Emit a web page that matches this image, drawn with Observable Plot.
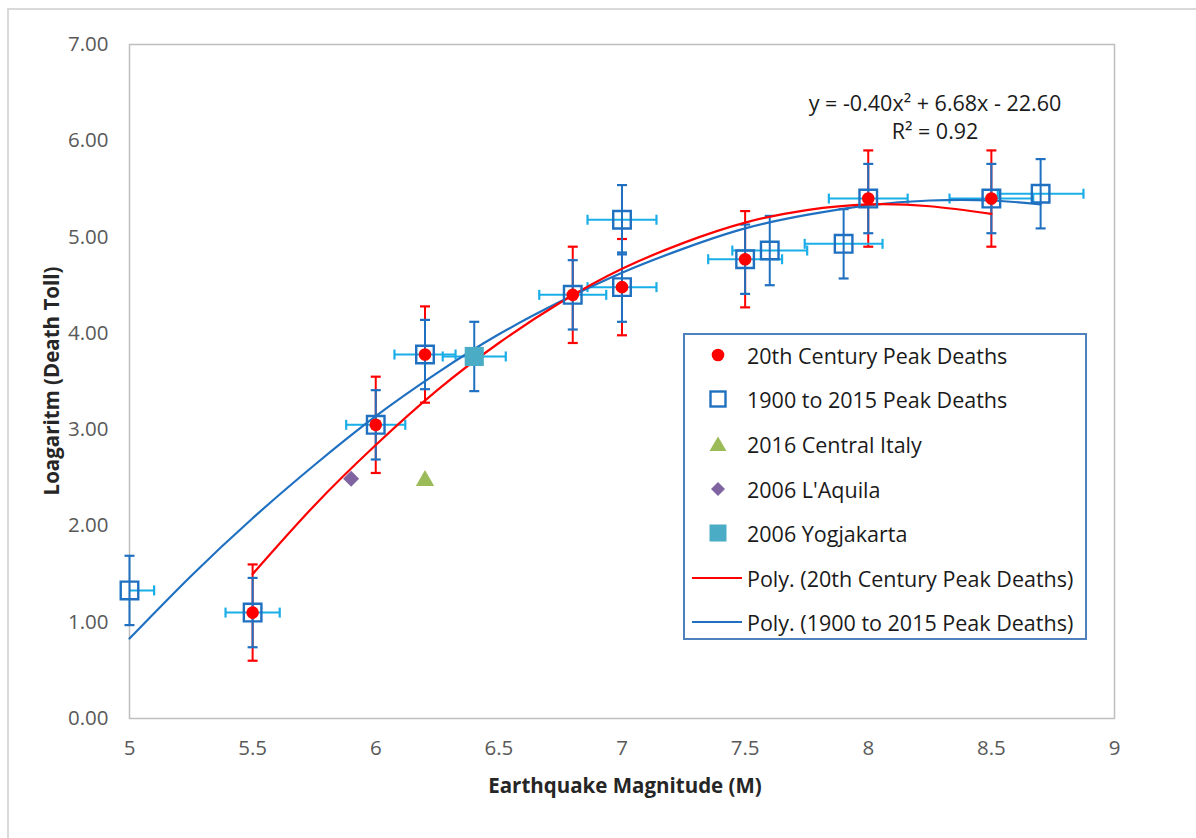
<!DOCTYPE html>
<html>
<head>
<meta charset="utf-8">
<script src="https://cdn.jsdelivr.net/npm/d3@7"></script>
<script src="https://cdn.jsdelivr.net/npm/@observablehq/plot@0.6"></script>
<style>
  html, body { margin: 0; padding: 0; background: #fff; }
  body { font-family: "Open Sans", "Noto Sans", sans-serif; }
  #wrap { position: relative; width: 1196px; height: 838px; overflow: hidden; }
  #outer { position: absolute; left: 7px; top: 8px; width: 1200px; height: 840px;
           border-top: 2px solid #d9d9d9; border-left: 2px solid #d9d9d9; box-sizing: border-box; }
  #chart { position: absolute; left: 0; top: 0; }
  .ttl { position: absolute; font-weight: bold; color: #262626; font-size: 20.5px; white-space: nowrap; }
  #ytitle { left: 51px; top: 381px; transform: translate(-50%, -50%) rotate(-90deg); }
  #xtitle { left: 625px; top: 785px; transform: translate(-50%, -50%); }
  #eq { position: absolute; left: 935px; top: 89px; transform: translateX(-50%);
        text-align: center; font-size: 21.5px; color: #1a1a1a; line-height: 28px; white-space: nowrap; }
  #legend { position: absolute; left: 683px; top: 333px; width: 404px; height: 307px;
            border: 2px solid #4f81bd; box-sizing: border-box; background: #fff; }
  .row { position: absolute; left: 0; height: 30px; display: flex; align-items: center; font-size: 21.5px; color: #1a1a1a; white-space: nowrap; }
  .row svg { display: block; }
</style>
</head>
<body>
<div id="wrap">
  <div id="outer"></div>
  <div id="chart"></div>
  <div class="ttl" id="ytitle"></div>
  <div class="ttl" id="xtitle"></div>
  <div id="eq"></div>
  <div id="legend"></div>
</div>
<script>
// ---------- data ----------
const xTicks = [5, 5.5, 6, 6.5, 7, 7.5, 8, 8.5, 9];
const yTicks = [0, 1, 2, 3, 4, 5, 6, 7];
const xTitle = "Earthquake Magnitude (M)";
const yTitle = "Loagaritm (Death Toll)";
const equationLines = ["y = -0.40x\u00B2 + 6.68x - 22.60", "R\u00B2 = 0.92"];

// 20th Century Peak Deaths
const c20Mag = [5.5, 6.0, 6.2, 6.8, 7.0, 7.5, 8.0, 8.5];
const c20Log = [1.10, 3.05, 3.78, 4.40, 4.48, 4.77, 5.40, 5.40];
const c20Err = [0.5, 0.5, 0.5, 0.5, 0.5, 0.5, 0.5, 0.5];

// 1900 to 2015 Peak Deaths
const pkMag  = [5.0, 5.5, 6.0, 6.2, 6.8, 7.0, 7.0, 7.5, 7.6, 7.9, 8.0, 8.5, 8.7];
const pkLog  = [1.33, 1.10, 3.05, 3.78, 4.40, 5.18, 4.48, 4.77, 4.86, 4.93, 5.40, 5.40, 5.45];
const pkYErr = [0.36, 0.36, 0.36, 0.36, 0.36, 0.36, 0.36, 0.36, 0.36, 0.36, 0.36, 0.36, 0.36];
const pkXErr = [0.10, 0.11, 0.12, 0.124, 0.136, 0.14, 0.14, 0.15, 0.152, 0.158, 0.16, 0.17, 0.174];

// single events
const italyMag = [6.2], italyLog = [2.47];
const aquilaMag = [5.9], aquilaLog = [2.49];
const yogMag = [6.4], yogLog = [3.76], yogXErr = [0.128], yogYErr = [0.36];

// polynomial trendlines
const polyRedMag = [5.5, 5.75, 6.0, 6.25, 6.5, 6.75, 7.0, 7.25, 7.5, 7.75, 8.0, 8.25, 8.5];
const polyRedLog = [1.50, 2.21, 2.84, 3.41, 3.90, 4.32, 4.67, 4.94, 5.15, 5.28, 5.34, 5.32, 5.24];
const polyBlueMag = [5.0, 5.25, 5.5, 5.75, 6.0, 6.25, 6.5, 6.75, 7.0, 7.25, 7.5, 7.75, 8.0, 8.25, 8.5, 8.7];
const polyBlueLog = [0.83, 1.48, 2.08, 2.63, 3.14, 3.59, 3.99, 4.33, 4.63, 4.88, 5.09, 5.23, 5.33, 5.38, 5.38, 5.34];

const legendLabels = ["20th Century Peak Deaths", "1900 to 2015 Peak Deaths", "2016 Central Italy",
  "2006 L'Aquila", "2006 Yogjakarta", "Poly. (20th Century Peak Deaths)", "Poly. (1900 to 2015 Peak Deaths)"];

// ---------- colours ----------
const RED = "#ff0000", BLUE = "#1f70c1", LBLUE = "#19aee8", GREEN = "#9bbb59", PURPLE = "#8064a2", AQUA = "#4bacc6";

// ---------- tables ----------
const c20 = c20Mag.map((m, i) => ({mag: m, log: c20Log[i], err: c20Err[i]}));
const pk = pkMag.map((m, i) => ({mag: m, log: pkLog[i], ye: pkYErr[i], xe: pkXErr[i]}));
const yog = yogMag.map((m, i) => ({mag: m, log: yogLog[i], ye: yogYErr[i], xe: yogXErr[i]}));
const italy = italyMag.map((m, i) => ({mag: m, log: italyLog[i]}));
const aquila = aquilaMag.map((m, i) => ({mag: m, log: aquilaLog[i]}));
const polyRed = polyRedMag.map((m, i) => ({mag: m, log: polyRedLog[i]}));
const polyBlue = polyBlueMag.map((m, i) => ({mag: m, log: polyBlueLog[i]}));
const allErr = pk.concat(yog);

// cap symbols
const hCap = {draw(ctx, size) { const r = Math.sqrt(size / Math.PI); ctx.moveTo(-r, 0); ctx.lineTo(r, 0); }};
const vCap = {draw(ctx, size) { const r = Math.sqrt(size / Math.PI); ctx.moveTo(0, -r); ctx.lineTo(0, r); }};

const FONT = '"Open Sans", "Noto Sans", sans-serif';

const chart = Plot.plot({
  width: 1196, height: 838,
  marginLeft: 129, marginRight: 82, marginTop: 44, marginBottom: 120,
  style: {fontFamily: FONT, background: "transparent"},
  x: {domain: [5, 9]},
  y: {domain: [0, 7]},
  marks: [
    Plot.frame({stroke: "#bfbfbf", strokeWidth: 1.5}),
    Plot.axisY({ticks: yTicks, tickSize: 0, tickPadding: 21, tickFormat: d => d.toFixed(2), label: null, fontSize: 20.5, color: "#595959"}),
    Plot.axisX({ticks: xTicks, tickSize: 0, tickPadding: 22, tickFormat: d => String(d), label: null, fontSize: 20.5, color: "#595959"}),
    // red vertical error bars
    Plot.ruleX(c20, {x: "mag", y1: d => d.log - d.err, y2: d => d.log + d.err, stroke: RED, strokeWidth: 2}),
    Plot.dot(c20, {x: "mag", y: d => d.log - d.err, symbol: hCap, r: 5, stroke: RED, strokeWidth: 2.2}),
    Plot.dot(c20, {x: "mag", y: d => d.log + d.err, symbol: hCap, r: 5, stroke: RED, strokeWidth: 2.2}),
    // light-blue horizontal error bars
    Plot.ruleY(allErr, {y: "log", x1: d => d.mag - d.xe, x2: d => d.mag + d.xe, stroke: LBLUE, strokeWidth: 2, clip: true}),
    Plot.dot(allErr, {x: d => d.mag - d.xe, y: "log", symbol: vCap, r: 5, stroke: LBLUE, strokeWidth: 2.2, clip: true}),
    Plot.dot(allErr, {x: d => d.mag + d.xe, y: "log", symbol: vCap, r: 5, stroke: LBLUE, strokeWidth: 2.2}),
    // dark-blue vertical error bars
    Plot.ruleX(allErr, {x: "mag", y1: d => d.log - d.ye, y2: d => d.log + d.ye, stroke: BLUE, strokeWidth: 2}),
    Plot.dot(allErr, {x: "mag", y: d => d.log - d.ye, symbol: hCap, r: 5, stroke: BLUE, strokeWidth: 2.2}),
    Plot.dot(allErr, {x: "mag", y: d => d.log + d.ye, symbol: hCap, r: 5, stroke: BLUE, strokeWidth: 2.2}),
    // trendlines
    Plot.line(polyBlue, {x: "mag", y: "log", stroke: BLUE, strokeWidth: 2.2, curve: "natural"}),
    Plot.line(polyRed, {x: "mag", y: "log", stroke: RED, strokeWidth: 2.2, curve: "natural"}),
    // markers
    Plot.dot(yog, {x: "mag", y: "log", symbol: "square", r: 10.8, fill: AQUA, stroke: "none"}),
    Plot.dot(pk, {x: "mag", y: "log", symbol: "square", r: 9.9, fill: "none", stroke: BLUE, strokeWidth: 2.4}),
    Plot.dot(c20, {x: "mag", y: "log", r: 6.3, fill: RED, stroke: "none"}),
    Plot.dot(italy, {x: "mag", y: "log", symbol: "triangle", r: 6.8, fill: GREEN, stroke: "none"}),
    Plot.dot(aquila, {x: "mag", y: "log", symbol: "diamond2", r: 7.2, fill: PURPLE, stroke: "none"})
  ]
});
document.getElementById("chart").appendChild(chart);

document.getElementById("ytitle").textContent = yTitle;
document.getElementById("xtitle").textContent = xTitle;
document.getElementById("eq").innerHTML = equationLines.map(t => `<div>${t}</div>`).join("");

// legend
const symbols = [
  `<circle cx="10" cy="10" r="6.3" fill="${RED}"/>`,
  `<rect x="2.5" y="2.5" width="15" height="15" fill="none" stroke="${BLUE}" stroke-width="2.4"/>`,
  `<path d="M10 2.5 L18.5 17 L1.5 17 Z" fill="${GREEN}"/>`,
  `<path d="M10 3 L17 10 L10 17 L3 10 Z" fill="${PURPLE}"/>`,
  `<rect x="1.5" y="1.5" width="17" height="17" fill="${AQUA}"/>`
];
const leg = document.getElementById("legend");
const rowCenters = [355, 399, 444, 489, 533, 578, 622];
legendLabels.forEach((lab, i) => {
  const row = document.createElement("div");
  row.className = "row";
  row.style.top = (rowCenters[i] - 333 - 2 - 15) + "px";
  let sym;
  if (i < 5) {
    row.style.left = "23px";
    sym = `<svg width="20" height="20" style="margin-right:19px">${symbols[i]}</svg>`;
  } else {
    row.style.left = "7px";
    const col = i === 5 ? RED : BLUE;
    sym = `<svg width="50" height="20" style="margin-right:5px"><line x1="0" y1="10" x2="50" y2="10" stroke="${col}" stroke-width="2.2"/></svg>`;
  }
  row.innerHTML = sym + `<span>${lab}</span>`;
  leg.appendChild(row);
});
</script>
</body>
</html>
